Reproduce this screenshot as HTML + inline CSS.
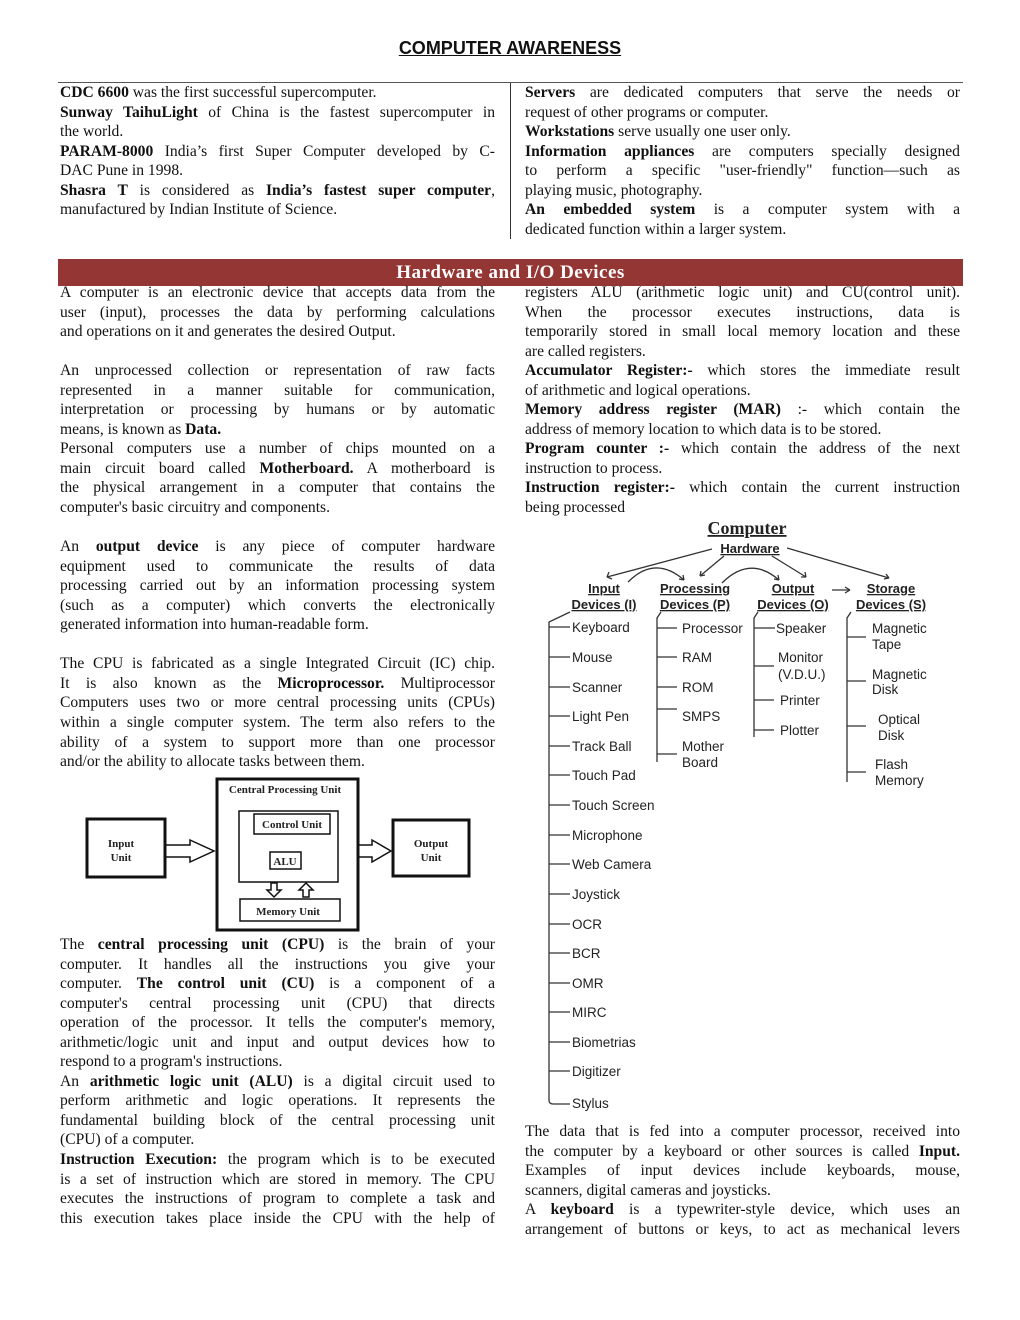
<!DOCTYPE html>
<html><head><meta charset="utf-8">
<style>
*{margin:0;padding:0;box-sizing:border-box}
body{width:1020px;height:1320px;background:#fff;position:relative;font-family:"Liberation Serif",serif;color:#111;overflow:hidden}
.col{position:absolute;font-size:15.6px;line-height:19.55px}
.col div{height:19.55px;white-space:nowrap;overflow:visible}
.j{text-align:justify;text-align-last:justify}
b{font-weight:bold}
.title{position:absolute;left:0;width:1020px;top:38px;text-align:center;font-family:"Liberation Sans",sans-serif;font-weight:bold;font-size:18px;text-decoration:underline}
.banner{position:absolute;left:58px;top:259px;width:905px;height:27px;background:#943634;color:#fff;text-align:center;font-weight:bold;font-size:19px;line-height:27px;letter-spacing:0.5px}
.ss{font-family:"Liberation Sans",sans-serif}
.sf{font-family:"Liberation Serif",serif}
</style></head><body>
<div class="title">COMPUTER AWARENESS</div>
<div style="position:absolute;left:58px;top:82px;width:905px;height:1px;background:#555"></div>
<div style="position:absolute;left:510px;top:83px;width:1px;height:156px;background:#333"></div>

<div class="col" style="left:60px;top:83px;width:435px">
<div><b>CDC 6600</b> was the first successful supercomputer.</div>
<div class="j"><b>Sunway TaihuLight</b> of China is the fastest supercomputer in</div>
<div>the world.</div>
<div class="j"><b>PARAM-8000</b> India’s first Super Computer developed by C-</div>
<div>DAC Pune in 1998.</div>
<div class="j"><b>Shasra T</b> is considered as <b>India’s fastest super computer</b>,</div>
<div>manufactured by Indian Institute of Science.</div>
</div>
<div class="col" style="left:525px;top:83px;width:435px">
<div class="j"><b>Servers</b> are dedicated computers that serve the needs or</div>
<div>request of other programs or computer.</div>
<div><b>Workstations</b> serve usually one user only.</div>
<div class="j"><b>Information appliances</b> are computers specially designed</div>
<div class="j">to perform a specific "user-friendly" function—such as</div>
<div>playing music, photography.</div>
<div class="j"><b>An embedded system</b> is a computer system with a</div>
<div>dedicated function within a larger system.</div>
</div>

<div class="banner">Hardware and I/O Devices</div>

<div class="col" style="left:60px;top:283px;width:435px">
<div class="j">A computer is an electronic device that accepts data from the</div>
<div class="j">user (input), processes the data by performing calculations</div>
<div>and operations on it and generates the desired Output.</div>
<div></div>
<div class="j">An unprocessed collection or representation of raw facts</div>
<div class="j">represented in a manner suitable for communication,</div>
<div class="j">interpretation or processing by humans or by automatic</div>
<div>means, is known as <b>Data.</b></div>
<div class="j">Personal computers use a number of chips mounted on a</div>
<div class="j">main circuit board called <b>Motherboard.</b> A motherboard is</div>
<div class="j">the physical arrangement in a computer that contains the</div>
<div>computer's basic circuitry and components.</div>
<div></div>
<div class="j">An <b>output device</b> is any piece of computer hardware</div>
<div class="j">equipment used to communicate the results of data</div>
<div class="j">processing carried out by an information processing system</div>
<div class="j">(such as a computer) which converts the electronically</div>
<div>generated information into human-readable form.</div>
<div></div>
<div class="j">The CPU is fabricated as a single Integrated Circuit (IC) chip.</div>
<div class="j">It is also known as the <b>Microprocessor.</b> Multiprocessor</div>
<div class="j">Computers uses two or more central processing units (CPUs)</div>
<div class="j">within a single computer system. The term also refers to the</div>
<div class="j">ability of a system to support more than one processor</div>
<div>and/or the ability to allocate tasks between them.</div>
</div>

<div class="col" style="left:60px;top:935px;width:435px">
<div class="j">The <b>central processing unit (CPU)</b> is the brain of your</div>
<div class="j">computer. It handles all the instructions you give your</div>
<div class="j">computer. <b>The control unit (CU)</b> is a component of a</div>
<div class="j">computer's central processing unit (CPU) that directs</div>
<div class="j">operation of the processor. It tells the computer's memory,</div>
<div class="j">arithmetic/logic unit and input and output devices how to</div>
<div>respond to a program's instructions.</div>
<div class="j">An <b>arithmetic logic unit (ALU)</b> is a digital circuit used to</div>
<div class="j">perform arithmetic and logic operations. It represents the</div>
<div class="j">fundamental building block of the central processing unit</div>
<div>(CPU) of a computer.</div>
<div class="j"><b>Instruction Execution:</b> the program which is to be executed</div>
<div class="j">is a set of instruction which are stored in memory. The CPU</div>
<div class="j">executes the instructions of program to complete a task and</div>
<div class="j">this execution takes place inside the CPU with the help of</div>
</div>

<div class="col" style="left:525px;top:283px;width:435px">
<div class="j">registers ALU (arithmetic logic unit) and CU(control unit).</div>
<div class="j">When the processor executes instructions, data is</div>
<div class="j">temporarily stored in small local memory location and these</div>
<div>are called registers.</div>
<div class="j"><b>Accumulator Register:-</b> which stores the immediate result</div>
<div>of arithmetic and logical operations.</div>
<div class="j"><b>Memory address register (MAR)</b> :- which contain the</div>
<div>address of memory location to which data is to be stored.</div>
<div class="j"><b>Program counter :-</b> which contain the address of the next</div>
<div>instruction to process.</div>
<div class="j"><b>Instruction register:-</b> which contain the current instruction</div>
<div>being processed</div>
</div>

<div class="col" style="left:525px;top:1122px;width:435px">
<div class="j">The data that is fed into a computer processor, received into</div>
<div class="j">the computer by a keyboard or other sources is called <b>Input.</b></div>
<div class="j">Examples of input devices include keyboards, mouse,</div>
<div>scanners, digital cameras and joysticks.</div>
<div class="j">A <b>keyboard</b> is a typewriter-style device, which uses an</div>
<div class="j">arrangement of buttons or keys, to act as mechanical levers</div>
</div>

<svg style="position:absolute;left:0;top:0" width="1020" height="1320">
<g fill="none" stroke="#111">
<rect x="87" y="819" width="78" height="58" stroke-width="3"/>
<rect x="217" y="779" width="141" height="151" stroke-width="3"/>
<rect x="239" y="811" width="99" height="71" stroke-width="1.5"/>
<rect x="254" y="814" width="76" height="20" stroke-width="1.5"/>
<rect x="270" y="852" width="31" height="17" stroke-width="1.5"/>
<rect x="240" y="899" width="100" height="22" stroke-width="1.5"/>
<rect x="393" y="820" width="76" height="56" stroke-width="3"/>
<path d="M166 845 H190 V840 L214 851 L190 862 V857 H166" stroke-width="1.5"/>
<path d="M359 845 H372 V840 L391 851 L372 862 V857 H359" stroke-width="1.5"/>
<path d="M271 883 V890 H267 L274 897 L281 890 H277 V883 Z" stroke-width="1.5"/>
<path d="M303 897 V890 H299 L306 883 L313 890 H309 V897 Z" stroke-width="1.5"/>
</g>
<g class="sf" style="font-family:'Liberation Serif',serif" font-weight="bold" font-size="11" fill="#222" text-anchor="middle">
<text x="285" y="793">Central Processing Unit</text>
<text x="292" y="828">Control Unit</text>
<text x="285" y="865">ALU</text>
<text x="288" y="915">Memory Unit</text>
<text x="121" y="847">Input</text><text x="121" y="861">Unit</text>
<text x="431" y="847">Output</text><text x="431" y="861">Unit</text>
</g>

<g fill="#222" text-anchor="middle" font-weight="bold" style="font-family:'Liberation Sans',sans-serif">
<text x="747" y="534" style="font-family:'Liberation Serif',serif" font-size="18" text-decoration="underline">Computer</text>
<text x="750" y="553" font-size="13" text-decoration="underline">Hardware</text>
<g font-size="13" text-decoration="underline">
<text x="604" y="593">Input</text><text x="604" y="609">Devices (I)</text>
<text x="695" y="593">Processing</text><text x="695" y="609">Devices (P)</text>
<text x="793" y="593">Output</text><text x="793" y="609">Devices (O)</text>
<text x="891" y="593">Storage</text><text x="891" y="609">Devices (S)</text>
</g>
</g>
<g stroke="#333" stroke-width="1.3" fill="none">
<path d="M712 549 L607 577"/><path d="M607 577 l2 -5 M607 577 l5 2"/>
<path d="M724 556 L700 576"/><path d="M700 576 l1 -5 M700 576 l5 -1"/>
<path d="M772 556 L806 577"/><path d="M806 577 l-5 0 M806 577 l-1 -5"/>
<path d="M787 548 L889 578"/><path d="M889 578 l-5 1 M889 578 l-3 -4"/>
<path d="M628 582 Q655 555 684 580"/><path d="M684 580 l-1 -5 M684 580 l-5 -1"/>
<path d="M722 583 Q750 555 779 580"/><path d="M779 580 l-1 -5 M779 580 l-5 -1"/>
<path d="M832 590 L850 590"/><path d="M850 590 l-5 -3 M850 590 l-5 3"/>
<path d="M570 612 L549 622 V1100 Q549 1104 553 1104 H570"/>
<path d="M549 627 H570 M549 657 H570 M549 687 H570 M549 716 H570 M549 746 H570 M549 775 H570 M549 805 H570 M549 835 H570 M549 864 H570 M549 894 H570 M549 924 H570 M549 953 H570 M549 983 H570 M549 1012 H570 M549 1042 H570 M549 1071 H570"/>
<path d="M661 612 L657 618 V762 M657 628 H677 M657 657 H677 M657 687 H677 M657 709 H677 M657 754 H677"/>
<path d="M758 612 L754 618 V737 M754 628 H775 M754 666 H774 M754 700 H774 M754 730 H774"/>
<path d="M851 612 L847 618 V782 M847 637 H866 M847 681 H866 M847 726 H866 M847 772 H866"/>
</g>
<g font-size="13.5" fill="#222" style="font-family:'Liberation Sans',sans-serif">
<text x="572" y="632">Keyboard</text><text x="572" y="662">Mouse</text><text x="572" y="692">Scanner</text>
<text x="572" y="721">Light Pen</text><text x="572" y="751">Track Ball</text><text x="572" y="780">Touch Pad</text>
<text x="572" y="810">Touch Screen</text><text x="572" y="840">Microphone</text><text x="572" y="869">Web Camera</text>
<text x="572" y="899">Joystick</text><text x="572" y="929">OCR</text><text x="572" y="958">BCR</text>
<text x="572" y="988">OMR</text><text x="572" y="1017">MIRC</text><text x="572" y="1047">Biometrias</text>
<text x="572" y="1076">Digitizer</text><text x="572" y="1108">Stylus</text>
<text x="682" y="633">Processor</text><text x="682" y="662">RAM</text><text x="682" y="692">ROM</text>
<text x="682" y="721">SMPS</text><text x="682" y="751">Mother</text><text x="682" y="767">Board</text>
<text x="776" y="633">Speaker</text><text x="778" y="662">Monitor</text><text x="778" y="679">(V.D.U.)</text>
<text x="780" y="705">Printer</text><text x="780" y="735">Plotter</text>
<text x="872" y="633">Magnetic</text><text x="872" y="649">Tape</text>
<text x="872" y="679">Magnetic</text><text x="872" y="694">Disk</text>
<text x="878" y="724">Optical</text><text x="878" y="740">Disk</text>
<text x="875" y="769">Flash</text><text x="875" y="785">Memory</text>
</g>
</svg>
</body></html>
